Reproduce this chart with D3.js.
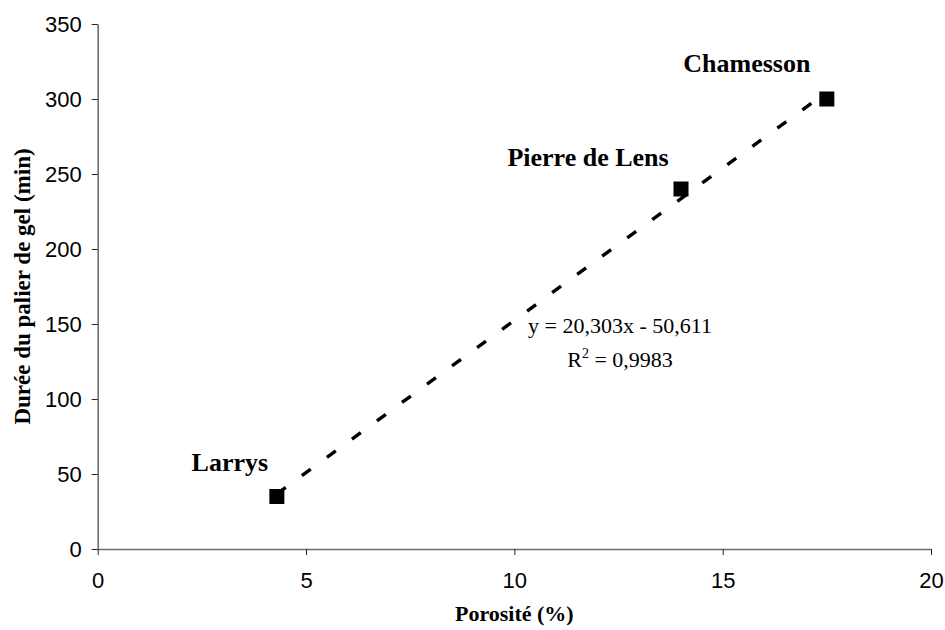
<!DOCTYPE html>
<html>
<head>
<meta charset="utf-8">
<script src="https://cdn.jsdelivr.net/npm/d3@7"></script>
<style>
  html, body { margin: 0; padding: 0; background: #fff; }
  svg { display: block; }
</style>
</head>
<body>
<svg id="chart" width="945" height="630"></svg>
<script>
// ---- data ----
const sites = ["Larrys", "Pierre de Lens", "Chamesson"];
const porosity = [4.3, 14, 17.5];
const duration = [35, 240, 300];
const xTicks = [0, 5, 10, 15, 20];
const yTicks = [0, 50, 100, 150, 200, 250, 300, 350];
const slope = 20.303, intercept = -50.611;
const eqLines = ["y = 20,303x - 50,611", "R", "2", " = 0,9983"];
const xTitle = "Porosité (%)";
const yTitle = "Durée du palier de gel (min)";

// ---- layout ----
const svg = d3.select("#chart");
const x = d3.scaleLinear().domain([0, 20]).range([97.7, 931]);
const y = d3.scaleLinear().domain([0, 350]).range([549, 24]);

// axes
const yAxis = svg.append("g").attr("transform", `translate(${x(0)},0)`)
  .call(d3.axisLeft(y).tickValues(yTicks).tickSize(6).tickPadding(10).tickSizeOuter(0));
const xAxis = svg.append("g").attr("transform", `translate(0,${y(0)})`)
  .call(d3.axisBottom(x).tickValues(xTicks).tickSize(6).tickPadding(17).tickSizeOuter(0));
[xAxis, yAxis].forEach(g => {
  g.select(".domain").attr("stroke", "#6e6e6e").attr("stroke-width", 1.6);
  g.selectAll(".tick line").attr("stroke", "#222").attr("stroke-width", 1);
  g.selectAll(".tick text").attr("font-family", "Arial, 'Liberation Sans', sans-serif")
    .attr("font-size", 22).attr("fill", "#000");
});

// trendline
const x0 = d3.min(porosity), x1 = d3.max(porosity);
const line = d3.line().x(d => x(d[0])).y(d => y(d[1]));
svg.append("path")
  .attr("d", line([[x0, slope * x0 + intercept], [x1, slope * x1 + intercept]]))
  .attr("stroke", "#000").attr("stroke-width", 3.4)
  .attr("stroke-dasharray", "11,20").attr("fill", "none");

// markers
const pts = sites.map((s, i) => ({ s, x: porosity[i], y: duration[i] }));
const m = 15;
svg.selectAll("rect.pt").data(pts).enter().append("rect")
  .attr("class", "pt")
  .attr("x", d => x(d.x) - m / 2).attr("y", d => y(d.y) - m / 2)
  .attr("width", m).attr("height", m).attr("fill", "#000");

// point labels
const labelOffsets = [[-47, -26], [-93, -23], [-80, -27]];
svg.selectAll("text.lbl").data(pts).enter().append("text")
  .attr("class", "lbl")
  .attr("x", (d, i) => x(d.x) + labelOffsets[i][0])
  .attr("y", (d, i) => y(d.y) + labelOffsets[i][1])
  .attr("text-anchor", "middle")
  .attr("font-family", "'Times New Roman', 'Liberation Serif', serif")
  .attr("font-weight", "bold").attr("font-size", 26)
  .text(d => d.s);

// equation
const eqFont = "'Times New Roman', 'Liberation Serif', serif";
svg.append("text").attr("x", 620).attr("y", 333).attr("text-anchor", "middle")
  .attr("font-family", eqFont).attr("font-size", 22).text(eqLines[0]);
const r2 = svg.append("text").attr("x", 620).attr("y", 367).attr("text-anchor", "middle")
  .attr("font-family", eqFont).attr("font-size", 22);
r2.append("tspan").text(eqLines[1]);
r2.append("tspan").attr("dy", -9).attr("font-size", 14).text(eqLines[2]);
r2.append("tspan").attr("dy", 9).text(eqLines[3]);

// axis titles
svg.append("text").attr("x", (x(0) + x(20)) / 2).attr("y", 621)
  .attr("text-anchor", "middle").attr("font-family", eqFont)
  .attr("font-weight", "bold").attr("font-size", 22).text(xTitle);
svg.append("text")
  .attr("transform", `translate(30,${(y(0) + y(350)) / 2}) rotate(-90)`)
  .attr("text-anchor", "middle").attr("font-family", eqFont)
  .attr("font-weight", "bold").attr("font-size", 23).text(yTitle);
</script>
</body>
</html>
